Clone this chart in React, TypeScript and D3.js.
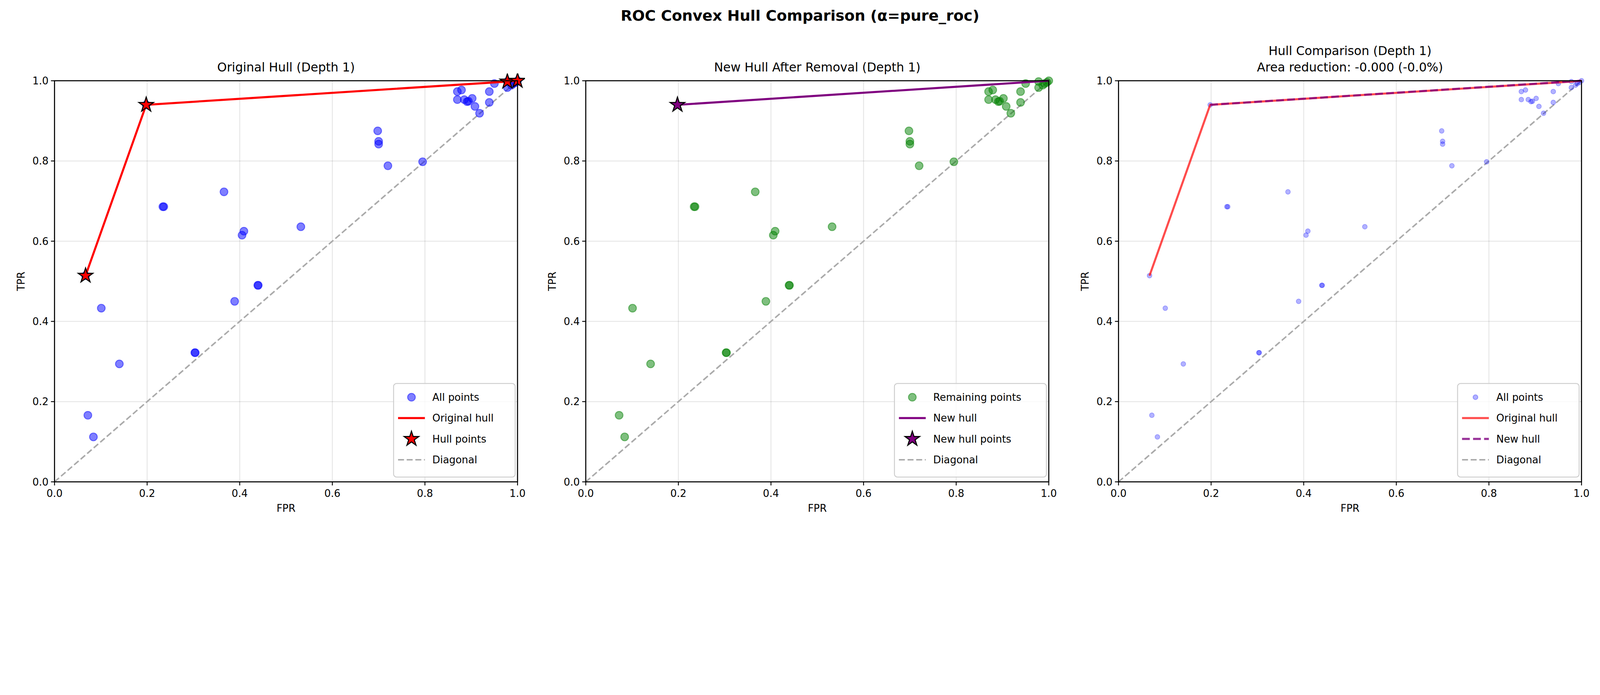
import React from "react";
import * as d3 from "d3";

const fpr = [0.067,0.198,0.978,1.0,0.101,0.140,0.072,0.084,0.234,0.236,0.303,0.304,0.366,0.389,0.405,0.409,0.439,0.440,0.532,0.698,0.700,0.700,0.720,0.795,0.870,0.879,0.870,0.885,0.891,0.894,0.902,0.908,0.918,0.939,0.939,0.950,0.978,0.987,0.991,0.996];
const tpr = [0.514,0.940,0.998,1.0,0.433,0.294,0.166,0.112,0.686,0.686,0.322,0.322,0.723,0.450,0.615,0.625,0.490,0.490,0.636,0.875,0.849,0.842,0.788,0.798,0.973,0.977,0.953,0.953,0.948,0.949,0.956,0.936,0.919,0.973,0.946,0.993,0.983,0.989,0.993,0.996];
const origHullX = [0.067,0.198,0.978,1.0];
const origHullY = [0.514,0.940,0.998,1.0];
const newHullX = [0.198,1.0];
const newHullY = [0.940,1.0];
const ticks = [0,0.2,0.4,0.6,0.8,1.0];
const titles = ["Original Hull (Depth 1)","New Hull After Removal (Depth 1)","Hull Comparison (Depth 1)"];

const T = 271, B = 1617;
const lefts = [183, 1966, 3754];
const W = 1554;
const font = "DejaVu Sans, sans-serif";
const STAR = 750;

function Panel({ idx }: { idx: number }) {
  const L = lefts[idx];
  const x = d3.scaleLinear().domain([0, 1]).range([L, L + W]);
  const y = d3.scaleLinear().domain([0, 1]).range([B, T]);
  const line = (xs: number[], ys: number[]) =>
    d3.line<number>().x((_, i) => x(xs[i])).y((_, i) => y(ys[i]))(xs) as string;
  const star = (s: number) => d3.symbol().type(d3.symbolStar).size(s)() as string;
  const pts = fpr.map((v, i) => [v, tpr[i]]);
  const items: any[] = [];
  const diag = <path key="d" d={line([0,1],[0,1])} stroke="#aaaaaa" strokeWidth={5} strokeDasharray="20,9" fill="none" />;
  if (idx === 0) {
    items.push(diag);
    pts.forEach(([a, b], i) => items.push(<circle key={"p"+i} cx={x(a)} cy={y(b)} r={13} fill="rgba(0,0,255,0.5)" stroke="rgba(0,0,255,0.5)" strokeWidth={3} />));
    items.push(<path key="h" d={line(origHullX, origHullY)} stroke="#ff0000" strokeWidth={7} fill="none" />);
    origHullX.forEach((a, i) => items.push(<path key={"s"+i} d={star(STAR)} transform={`translate(${x(a)},${y(origHullY[i])})`} fill="#ff0000" stroke="#000" strokeWidth={3.5} />));
  } else if (idx === 1) {
    items.push(diag);
    pts.slice(2).forEach(([a, b], i) => items.push(<circle key={"p"+i} cx={x(a)} cy={y(b)} r={13} fill="rgba(0,128,0,0.5)" stroke="rgba(0,128,0,0.5)" strokeWidth={3} />));
    items.push(<path key="h" d={line(newHullX, newHullY)} stroke="#800080" strokeWidth={7} fill="none" />);
    items.push(<path key="s" d={star(STAR)} transform={`translate(${x(newHullX[0])},${y(newHullY[0])})`} fill="#800080" stroke="#000" strokeWidth={3.5} />);
  } else {
    items.push(diag);
    pts.forEach(([a, b], i) => items.push(<circle key={"p"+i} cx={x(a)} cy={y(b)} r={8} fill="rgba(0,0,255,0.3)" stroke="rgba(0,0,255,0.3)" strokeWidth={2} />));
    items.push(<path key="h" d={line(origHullX, origHullY)} stroke="rgba(255,0,0,0.7)" strokeWidth={7} fill="none" />);
    items.push(<path key="n" d={line(newHullX, newHullY)} stroke="rgba(128,0,128,0.8)" strokeWidth={7} strokeDasharray="26,11" fill="none" />);
  }
  const legends = [
    [["c","All points","rgba(0,0,255,0.5)",13],["l","Original hull","#ff0000"],["s","Hull points","#ff0000"],["g","Diagonal"]],
    [["c","Remaining points","rgba(0,128,0,0.5)",13],["l","New hull","#800080"],["s","New hull points","#800080"],["g","Diagonal"]],
    [["c","All points","rgba(0,0,255,0.3)",8],["l","Original hull","rgba(255,0,0,0.7)"],["n","New hull","rgba(128,0,128,0.8)"],["g","Diagonal"]],
  ][idx];
  const lw = idx === 1 ? 510 : 408;
  const lx = L + W - 8 - lw, ly = 1287;
  return (
    <g>
      {ticks.map((t) => (
        <g key={"g"+t}>
          <line x1={x(t)} x2={x(t)} y1={T} y2={B} stroke="#000" strokeOpacity={0.1} strokeWidth={3} />
          <line x1={L} x2={L + W} y1={y(t)} y2={y(t)} stroke="#000" strokeOpacity={0.1} strokeWidth={3} />
        </g>
      ))}
      <defs><clipPath id={"c"+idx}><rect x={L} y={T - 25} width={W + 25} height={B - T + 25} /></clipPath></defs>
      <g clipPath={`url(#c${idx})`}>{items}</g>
      <rect x={L} y={T} width={W} height={B - T} fill="none" stroke="#000" strokeWidth={3.5} />
      {ticks.map((t) => (
        <g key={"t"+t} fontFamily={font} fontSize={34}>
          <line x1={x(t)} x2={x(t)} y1={B} y2={B + 12} stroke="#000" strokeWidth={3} />
          <text x={x(t)} y={B + 50} textAnchor="middle">{t.toFixed(1)}</text>
          <line x1={L - 12} x2={L} y1={y(t)} y2={y(t)} stroke="#000" strokeWidth={3} />
          <text x={L - 20} y={y(t) + 12} textAnchor="end">{t.toFixed(1)}</text>
        </g>
      ))}
      <text x={L + W / 2} y={B + 100} textAnchor="middle" fontFamily={font} fontSize={34}>FPR</text>
      <text transform={`translate(${L - 100},${(T + B) / 2}) rotate(-90)`} textAnchor="middle" fontFamily={font} fontSize={34}>TPR</text>
      {idx === 2 ? (
        <>
          <text x={L + W / 2} y={185} textAnchor="middle" fontFamily={font} fontSize={41}>{titles[idx]}</text>
          <text x={L + W / 2} y={240} textAnchor="middle" fontFamily={font} fontSize={41}>Area reduction: -0.000 (-0.0%)</text>
        </>
      ) : (
        <text x={L + W / 2} y={240} textAnchor="middle" fontFamily={font} fontSize={41}>{titles[idx]}</text>
      )}
      <rect x={lx} y={ly} width={lw} height={314} rx={10} fill="rgba(255,255,255,0.8)" stroke="#cccccc" strokeWidth={3} />
      {legends.map((e: any, i: number) => {
        const cy = ly + 46 + i * 70;
        const mx = lx + 60;
        let m: any = null;
        if (e[0] === "c") m = <circle cx={mx} cy={cy} r={e[3]} fill={e[2]} stroke={e[2]} strokeWidth={3} />;
        else if (e[0] === "l") m = <line x1={mx - 45} x2={mx + 45} y1={cy} y2={cy} stroke={e[2]} strokeWidth={7} />;
        else if (e[0] === "n") m = <line x1={mx - 45} x2={mx + 45} y1={cy} y2={cy} stroke={e[2]} strokeWidth={7} strokeDasharray="26,11" />;
        else if (e[0] === "s") m = <path d={star(STAR)} transform={`translate(${mx},${cy})`} fill={e[2]} stroke="#000" strokeWidth={3.5} />;
        else m = <line x1={mx - 45} x2={mx + 45} y1={cy} y2={cy} stroke="#aaaaaa" strokeWidth={5} strokeDasharray="20,9" />;
        return (
          <g key={"l"+i}>
            {m}
            <text x={lx + 130} y={cy + 12} fontFamily={font} fontSize={34}>{e[1]}</text>
          </g>
        );
      })}
    </g>
  );
}

export default function App() {
  return (
    <svg viewBox="0 0 5370 1779" width="100%" preserveAspectRatio="xMinYMin meet" style={{ display: "block", position: "absolute", left: 0, top: 0, background: "#fff" }}>
      <rect width={5370} height={1779} fill="#fff" />
      <text x={2685} y={70} textAnchor="middle" fontFamily={font} fontSize={50} fontWeight="bold">ROC Convex Hull Comparison (α=pure_roc)</text>
      {[0, 1, 2].map((i) => <Panel key={i} idx={i} />)}
    </svg>
  );
}
